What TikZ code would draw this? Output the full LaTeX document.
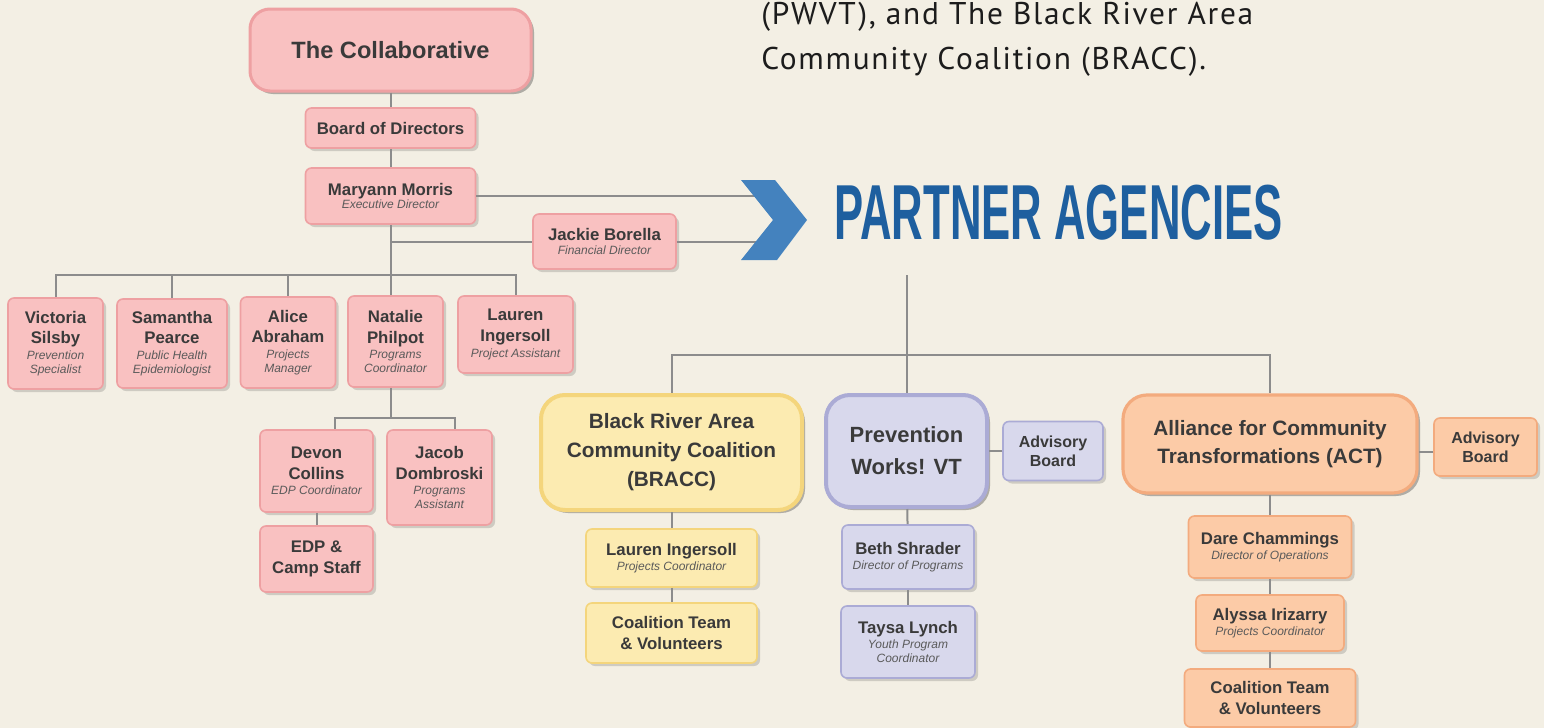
\documentclass[tikz,border=0pt]{standalone}
\usepackage{fontspec}
\setmainfont{Liberation Sans}
\newfontfamily\introfont[LetterSpace=5.4]{PT Sans}
\usetikzlibrary{shadows}

\definecolor{paper}{HTML}{F3EFE4}
\definecolor{ink}{HTML}{3A3A3A}
\definecolor{rolegray}{HTML}{5A5A5A}
\definecolor{linegray}{HTML}{8C8C8C}
\definecolor{pinkfill}{HTML}{F9C1C1}
\definecolor{pinkline}{HTML}{EEA0A2}
\definecolor{yellowfill}{HTML}{FCEBB1}
\definecolor{yellowline}{HTML}{F4D57C}
\definecolor{lilacfill}{HTML}{D8D8EC}
\definecolor{lilacline}{HTML}{ABABD5}
\definecolor{peachfill}{HTML}{FCCBA7}
\definecolor{peachline}{HTML}{F3AB7E}
\definecolor{chevblue}{HTML}{4482BE}
\definecolor{titleblue}{HTML}{1E5F9F}
\definecolor{introink}{HTML}{1C1C1C}

\newcommand{\rolefont}{\fontsize{6}{7}\selectfont\mdseries\itshape\color{rolegray}}

\begin{document}
\begin{tikzpicture}[x=0.5pt,y=-0.5pt,
  link/.style={draw=linegray,line width=1pt},
  card/.style={rounded corners=3pt,line width=0.8pt,align=center,text=ink,inner sep=1pt,
    font=\bfseries\fontsize{8.4}{10.3}\selectfont,
    drop shadow={shadow xshift=1.5pt,shadow yshift=-1.5pt,opacity=0.15,fill=black}},
  head/.style={card,rounded corners=10pt,line width=1.8pt},
  pinkcard/.style={card,draw=pinkline,fill=pinkfill},
  yellowcard/.style={card,draw=yellowline,fill=yellowfill},
  lilaccard/.style={card,draw=lilacline,fill=lilacfill},
  peachcard/.style={card,draw=peachline,fill=peachfill}]

  \useasboundingbox (0,0) rectangle (1544,728);
  \clip (0,0) rectangle (1544,728);
  \fill[paper] (0,0) rectangle (1544,728);

  \node[anchor=base west,inner sep=0pt,text=introink,font=\introfont\fontsize{15.7}{22}\selectfont] (intro1) at (761,25) {(PWVT), and The Black River Area};
  \node[anchor=base west,inner sep=0pt,text=introink,font=\introfont\fontsize{15.7}{22}\selectfont] (intro2) at (761,69) {Community Coalition (BRACC).};

  \node[pinkcard,head,line width=1.5pt,minimum width=140.5pt,minimum height=41pt,font=\bfseries\fontsize{11.8}{14}\selectfont] (collab) at (390.5,50) {The Collaborative};
  \node[pinkcard,minimum width=85pt,minimum height=20pt] (board) at (390.5,128) {Board of Directors};
  \node[pinkcard,minimum width=85pt,minimum height=28pt] (maryann) at (390.5,196) {Maryann Morris\\[-3.5pt]\rolefont Executive Director};
  \node[pinkcard,minimum width=71.5pt,minimum height=27.5pt] (jackie) at (604.5,241.5) {Jackie Borella\\[-3.5pt]\rolefont Financial Director};

  \node[pinkcard,minimum width=47.5pt,minimum height=45.5pt] (victoria) at (55.5,343.5) {Victoria\\Silsby\\[-2.5pt]\rolefont Prevention\\[-3.3pt]\rolefont Specialist};
  \node[pinkcard,minimum width=55pt,minimum height=44.5pt] (samantha) at (172,343.5) {Samantha\\Pearce\\[-2.5pt]\rolefont Public Health\\[-3.3pt]\rolefont Epidemiologist};
  \node[pinkcard,minimum width=47.5pt,minimum height=45.5pt] (alice) at (288,342.5) {Alice\\Abraham\\[-2.5pt]\rolefont Projects\\[-3.3pt]\rolefont Manager};
  \node[pinkcard,minimum width=47.5pt,minimum height=45.5pt] (natalie) at (395.5,341.5) {Natalie\\Philpot\\[-2.5pt]\rolefont Programs\\[-3.3pt]\rolefont Coordinator};
  \node[pinkcard,minimum width=57.5pt,minimum height=38.5pt] (lauren) at (515.5,334.5) {Lauren\\Ingersoll\\[-2.5pt]\rolefont Project Assistant};

  \node[pinkcard,minimum width=56.5pt,minimum height=41pt] (devon) at (316.5,471) {Devon\\Collins\\[-2.5pt]\rolefont EDP Coordinator};
  \node[pinkcard,minimum width=56.5pt,minimum height=33pt] (edp) at (316.5,559) {EDP \&\\Camp Staff};
  \node[pinkcard,minimum width=52.5pt,minimum height=47.5pt] (jacob) at (439.5,477.5) {Jacob\\Dombroski\\[-2.5pt]\rolefont Programs\\[-3.3pt]\rolefont Assistant};

  \node[yellowcard,head,rounded corners=12pt,line width=2pt,minimum width=130.5pt,minimum height=57.5pt,font=\bfseries\fontsize{10.4}{14.5}\selectfont] (bracc) at (671.5,452.5) {Black River Area\\Community Coalition\\(BRACC)};
  \node[yellowcard,minimum width=85.5pt,minimum height=29pt] (lauren2) at (671.5,558) {Lauren Ingersoll\\[-3pt]\rolefont Projects Coordinator};
  \node[yellowcard,minimum width=85.5pt,minimum height=30pt] (coal1) at (671.5,633) {Coalition Team\\\& Volunteers};

  \node[lilaccard,head,rounded corners=12pt,line width=2pt,minimum width=80.5pt,minimum height=56pt,font=\bfseries\fontsize{11}{16}\selectfont] (pwvt) at (906.5,451) {Prevention\\Works! VT};
  \node[lilaccard,minimum width=50pt,minimum height=29.5pt,font=\bfseries\fontsize{8}{9.5}\selectfont] (adv1) at (1053,451) {Advisory\\Board};
  \node[lilaccard,minimum width=66pt,minimum height=32pt] (beth) at (908,557) {Beth Shrader\\[-2.5pt]\rolefont Director of Programs};
  \node[lilaccard,minimum width=67pt,minimum height=36pt] (taysa) at (908,642) {Taysa Lynch\\[-2.5pt]\rolefont Youth Program\\[-3.3pt]\rolefont Coordinator};

  \node[peachcard,head,rounded corners=12pt,line width=1.6pt,minimum width=147pt,minimum height=49pt,font=\bfseries\fontsize{10.4}{14}\selectfont] (act) at (1270,444) {Alliance for Community\\Transformations (ACT)};
  \node[peachcard,minimum width=51.5pt,minimum height=29pt,font=\bfseries\fontsize{8}{9.5}\selectfont] (adv2) at (1485.5,447) {Advisory\\Board};
  \node[peachcard,minimum width=81.5pt,minimum height=31pt] (dare) at (1270,547) {Dare Chammings\\[-2.5pt]\rolefont Director of Operations};
  \node[peachcard,minimum width=74pt,minimum height=28pt] (alyssa) at (1270,623) {Alyssa Irizarry\\[-2.5pt]\rolefont Projects Coordinator};
  \node[peachcard,minimum width=85.5pt,minimum height=29pt] (coal2) at (1270,698) {Coalition Team\\\& Volunteers};

  \coordinate (bus) at (390.5,275);
  \coordinate (bus2) at (390.5,418);
  \coordinate (pa1) at (770,196);
  \coordinate (pa2) at (770,241.5);
  \coordinate (pa) at (906.5,275);
  \coordinate (bus3) at (906.5,355);

  \draw[link] (collab) -- (board);
  \draw[link] (board) -- (maryann);
  \draw[link] (maryann) -- (bus);
  \draw[link] (maryann.east) -- (pa1);
  \draw[link] (bus |- jackie.west) -- (jackie.west);
  \draw[link] (jackie.east) -- (pa2);
  \draw[link] (bus) -| (victoria.north);
  \draw[link] (bus) -| (samantha.north);
  \draw[link] (bus) -| (alice.north);
  \draw[link] (bus) -| (lauren.north);
  \draw[link] (bus) -- (bus |- natalie.north);
  \draw[link] (bus2 |- natalie.south) -- (bus2);
  \draw[link] (bus2) -| ([xshift=9pt]devon.north);
  \draw[link] (bus2) -| ([xshift=7.5pt]jacob.north);
  \draw[link] (devon) -- (edp);
  \draw[link] (pa) -- (bus3);
  \draw[link] (bus3) -| (bracc.north);
  \draw[link] (bus3) -- (pwvt.north);
  \draw[link] (bus3) -| (act.north);
  \draw[link] (bracc) -- (lauren2);
  \draw[link] (lauren2) -- (coal1);
  \draw[link] (pwvt) -- (beth);
  \draw[link] (beth) -- (taysa);
  \draw[link] (adv1.west) -- (adv1.west -| pwvt.east);
  \draw[link] (act) -- (dare);
  \draw[link] (dare) -- (alyssa);
  \draw[link] (alyssa) -- (coal2);
  \draw[link] ([yshift=-2.5pt]adv2.west) -- ([yshift=-2.5pt]adv2.west -| act.east);

  \fill[chevblue] (741,180) -- (775,180) -- (807,220) -- (777,260) -- (741,260) -- (773,220) -- cycle;
  \node[anchor=base west,inner sep=0pt,text=titleblue] (title) at (834,239) {\scalebox{0.56}[1]{\fontsize{39}{39}\selectfont\bfseries PARTNER AGENCIES}};
\end{tikzpicture}
\end{document}
